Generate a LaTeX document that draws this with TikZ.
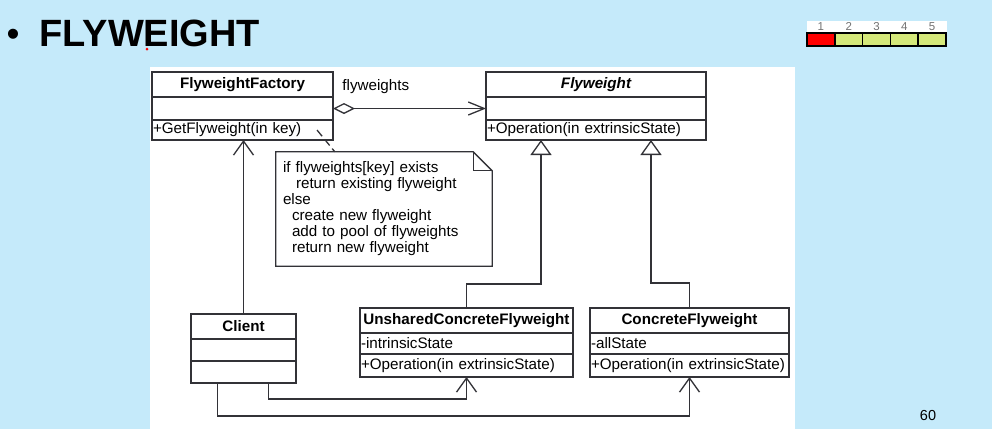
\documentclass[tikz,border=0pt]{standalone}
\usepackage{fontspec}
\setsansfont{Liberation Sans}
\usetikzlibrary{arrows.meta,positioning}
\definecolor{slide}{RGB}{197,234,250}
\definecolor{umlline}{RGB}{50,50,55}
\definecolor{lime}{RGB}{213,232,122}
\tikzset{
    font=\sffamily\fontsize{15.2}{16}\selectfont,
    %Define style for class compartments
    umlbox/.style={
           draw=umlline, line width=1.3pt,
           inner xsep=1pt, inner ysep=0pt, outer sep=0pt,
           align=left},
    umlhead/.style={umlbox, align=center, minimum height=25pt,
           font=\sffamily\bfseries\fontsize{15.2}{16}\selectfont},
    umlpart/.style={umlbox, minimum height=#1},
    % Define note style
    notebox/.style={text width=202pt, inner xsep=7pt, inner ysep=0pt,
           minimum height=114pt, align=left},
    % Define arrow styles
    assoc/.style={-{Straight Barb[length=14pt,width=20pt]}, draw=umlline, line width=1.3pt},
    inherit/.style={-{Triangle[open,length=15pt,width=21pt]}, draw=umlline, line width=1.3pt},
    agg/.style={{Diamond[open,length=22pt,width=11pt]}-{Straight Barb[length=16pt,width=13pt]},
           draw=umlline, line width=1.3pt},
    % Define progress bar style
    barcell/.style={rectangle, draw=black, line width=1.6pt, minimum width=27.8pt,
           minimum height=13pt, inner sep=0pt, outer sep=0pt},
    bardigit/.style={inner sep=0pt, text=black!55, font=\sffamily\fontsize{11.5}{11.5}\selectfont}
}
\begin{document}
\begin{tikzpicture}[x=1pt,y=-1pt]
  \useasboundingbox (0,0) rectangle (992,429);
  \fill[slide] (0,0) rectangle (992,429);
  \fill[white] (150,67) rectangle (795,429);
  % title
  \node[anchor=base, inner sep=0pt, font=\sffamily\fontsize{37}{40}\selectfont] (dot) at (13,46) {•};
  \node[anchor=base west, inner sep=0pt, font=\sffamily\bfseries\fontsize{38}{40}\selectfont] (title) at (39.5,46) {FLYWEIGHT};
  \fill[red] (147,49) circle (1.5pt);
  % progress bar
  \fill[white] (807,21) rectangle (947,33);
  \foreach \i/\c in {1/red,2/lime,3/lime,4/lime,5/lime}{
    \node[barcell, fill=\c] (c\i) at ({807+27.8*(\i-0.5)},39.5) {};
    \node[bardigit, above=2pt of c\i] {\i};
  }
  \node[font=\sffamily\fontsize{14.5}{14.5}\selectfont] (pg) at (928,415) {60};
  % classes
  \node[umlhead, text width=179pt] (fac) at (242.5,84.5) {FlyweightFactory};
  \node[umlpart=23pt, text width=179pt, below=0pt of fac] (facA) {};
  \node[umlpart=20pt, text width=179pt, below=0pt of facA] (facO) {+GetFlyweight(in key)};
  \node[umlhead, text width=218pt] (fly) at (596,84.5) {\itshape Flyweight};
  \node[umlpart=23pt, text width=218pt, below=0pt of fly] (flyA) {};
  \node[umlpart=20pt, text width=218pt, below=0pt of flyA] (flyO) {+Operation(in extrinsicState)};
  \node[umlhead, text width=103pt] (cliH) at (243.5,326.5) {Client};
  \node[umlpart=22pt, text width=103pt, below=0pt of cliH] (cliA) {};
  \node[umlpart=22pt, text width=103pt, below=0pt of cliA] (cliO) {};
  \node[umlhead, text width=211pt] (unsH) at (466.5,320.5) {UnsharedConcreteFlyweight};
  \node[umlpart=21pt, text width=211pt, below=0pt of unsH] (unsA) {-intrinsicState};
  \node[umlpart=23pt, text width=211pt, below=0pt of unsA] (unsO) {+Operation(in extrinsicState)};
  \node[umlhead, text width=197pt] (conH) at (689.5,320.5) {ConcreteFlyweight};
  \node[umlpart=21pt, text width=197pt, below=0pt of conH] (conA) {-allState};
  \node[umlpart=23pt, text width=197pt, below=0pt of conA] (conO) {+Operation(in extrinsicState)};
  % note
  \node[notebox] (note) at (384,209) {if flyweights[key] exists\\
    \hspace*{13pt}return existing flyweight\\
    else\\
    \hspace*{9pt}create new flyweight\\
    \hspace*{9pt}add to pool of flyweights\\
    \hspace*{9pt}return new flyweight};
  \draw[umlline, line width=1.3pt] (note.north west) -- ([xshift=-19pt]note.north east)
    -- ([yshift=-19pt]note.north east) -- (note.south east) -- (note.south west) -- cycle;
  \draw[umlline, line width=1.3pt] ([xshift=-19pt]note.north east)
    -- ([xshift=-19pt,yshift=-19pt]note.north east) -- ([yshift=-19pt]note.north east);
  \draw[umlline, line width=1.3pt, dash pattern=on 8pt off 4pt]
    ([xshift=-16pt,yshift=10pt]facO.south east) -- ([xshift=59pt]note.north west);
  % connectors
  \draw[agg] (facA.east) -- node[pos=0.28, above=14pt, inner sep=0pt] {flyweights} (flyA.west);
  \draw[assoc] (cliH.north) -- (cliH.north |- facO.south);
  \draw[assoc] ([xshift=25pt]cliO.south) -- ++(0,16) -| (unsO.south);
  \draw[assoc] ([xshift=-26pt]cliO.south) -- ++(0,33) -| (conO.south);
  \draw[inherit] (unsH.north) -- ++(0,-24) -| ([xshift=-55pt]flyO.south);
  \draw[inherit] (conH.north) -- ++(0,-25) -| ([xshift=55pt]flyO.south);
\end{tikzpicture}
\end{document}
